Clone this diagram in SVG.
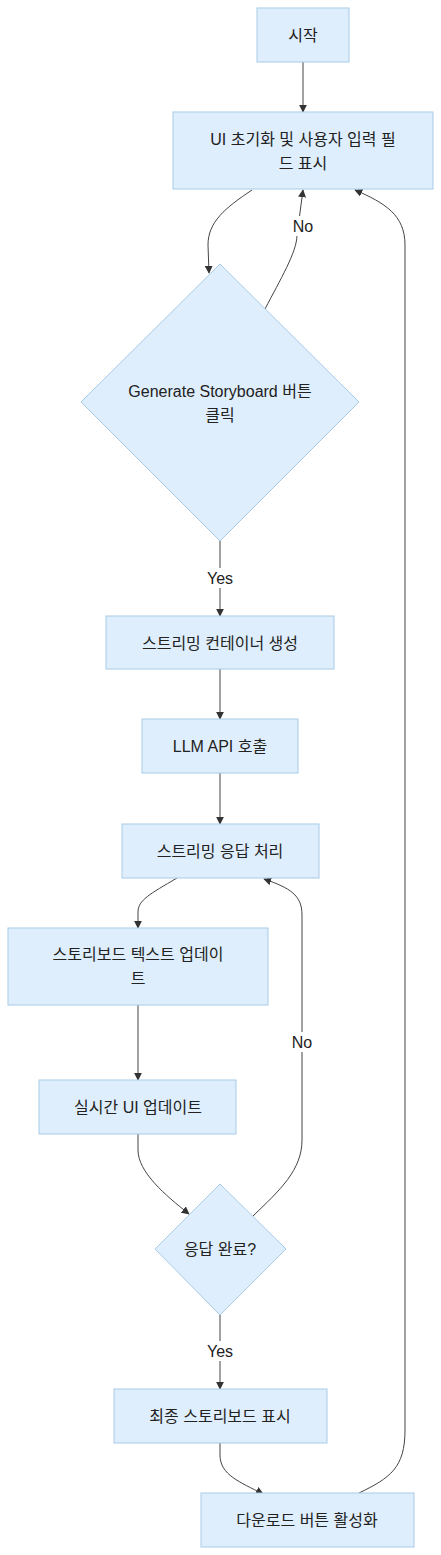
<svg xmlns="http://www.w3.org/2000/svg" width="441" height="1555" viewBox="0 0 441 1555">
<style>
.n{fill:#dfeefd;stroke:#a8cbe6;stroke-width:1}
.t{font-family:"Liberation Sans","Noto Sans CJK KR",sans-serif;font-size:16px;fill:#222;text-anchor:middle;dominant-baseline:central}
.e{fill:none;stroke:#444;stroke-width:1}
.lb{fill:#fff}
</style>
<defs>
<marker id="ah" viewBox="0 0 10 10" refX="9" refY="5" markerWidth="8" markerHeight="8" orient="auto-start-reverse" markerUnits="userSpaceOnUse">
<path d="M0,0 L10,5 L0,10 z" fill="#333"/>
</marker>
</defs>
<rect width="441" height="1555" fill="#fff"/>
<g id="connectors">
<path class="e" d="M303,62 L303,112" marker-end="url(#ah)"/>
<path class="e" d="M252,190 C225,208 208,222 208,245 L209,273" marker-end="url(#ah)"/>
<path class="e" d="M265,309 C280,280 297,252 297,235 L303,190" marker-end="url(#ah)"/>
<path class="e" d="M220,541 L220,616" marker-end="url(#ah)"/>
<path class="e" d="M220,669 L220,719" marker-end="url(#ah)"/>
<path class="e" d="M220,773 L220,824" marker-end="url(#ah)"/>
<path class="e" d="M177,878 C150,894 138,900 138,912 L138,928" marker-end="url(#ah)"/>
<path class="e" d="M138,1005 L138,1080" marker-end="url(#ah)"/>
<path class="e" d="M138,1134 L138,1150 C138,1172 165,1195 189,1214" marker-end="url(#ah)"/>
<path class="e" d="M253,1216 C280,1190 302,1170 302,1140 L302,915 C302,895 290,888 264,879" marker-end="url(#ah)"/>
<path class="e" d="M220,1315 L220,1389" marker-end="url(#ah)"/>
<path class="e" d="M220,1443 L220,1455 C220,1475 240,1482 263,1494" marker-end="url(#ah)"/>
<path class="e" d="M359,1493 C390,1478 405,1468 405,1430 L405,245 C405,215 385,203 355,190" marker-end="url(#ah)"/>
<rect class="lb" x="289" y="216" width="28" height="20"/>
<text class="t" x="303" y="226">No</text>
<rect class="lb" x="204" y="568" width="32" height="20"/>
<text class="t" x="220" y="578">Yes</text>
<rect class="lb" x="288" y="1032" width="28" height="20"/>
<text class="t" x="302" y="1042">No</text>
<rect class="lb" x="204" y="1341" width="32" height="20"/>
<text class="t" x="220" y="1351">Yes</text>
</g>
<g id="start">
<rect class="n" x="257" y="8" width="92" height="54"/>
<text class="t" x="303" y="35">시작</text>
</g>
<g id="init">
<rect class="n" x="173" y="112" width="260" height="77"/>
<text class="t" x="303" y="139">UI 초기화 및 사용자 입력 필</text>
<text class="t" x="303" y="163">드 표시</text>
</g>
<g id="click">
<polygon class="n" points="220,264 359,402 220,541 81,402"/>
<text class="t" x="220" y="391">Generate Storyboard 버튼</text>
<text class="t" x="220" y="415">클릭</text>
</g>
<g id="container">
<rect class="n" x="106" y="616" width="228" height="53"/>
<text class="t" x="220" y="643">스트리밍 컨테이너 생성</text>
</g>
<g id="llm">
<rect class="n" x="142" y="719" width="156" height="54"/>
<text class="t" x="220" y="746">LLM API 호출</text>
</g>
<g id="stream">
<rect class="n" x="122" y="824" width="197" height="54"/>
<text class="t" x="220" y="851">스트리밍 응답 처리</text>
</g>
<g id="textupdate">
<rect class="n" x="8" y="928" width="260" height="77"/>
<text class="t" x="138" y="954">스토리보드 텍스트 업데이</text>
<text class="t" x="138" y="978">트</text>
</g>
<g id="uiupdate">
<rect class="n" x="39" y="1080" width="197" height="54"/>
<text class="t" x="138" y="1107">실시간 UI 업데이트</text>
</g>
<g id="done">
<polygon class="n" points="220,1184 286,1249 220,1315 155,1249"/>
<text class="t" x="220" y="1249">응답 완료?</text>
</g>
<g id="final">
<rect class="n" x="114" y="1389" width="213" height="54"/>
<text class="t" x="220" y="1416">최종 스토리보드 표시</text>
</g>
<g id="download">
<rect class="n" x="201" y="1493" width="213" height="54"/>
<text class="t" x="307" y="1520">다운로드 버튼 활성화</text>
</g>
</svg>
